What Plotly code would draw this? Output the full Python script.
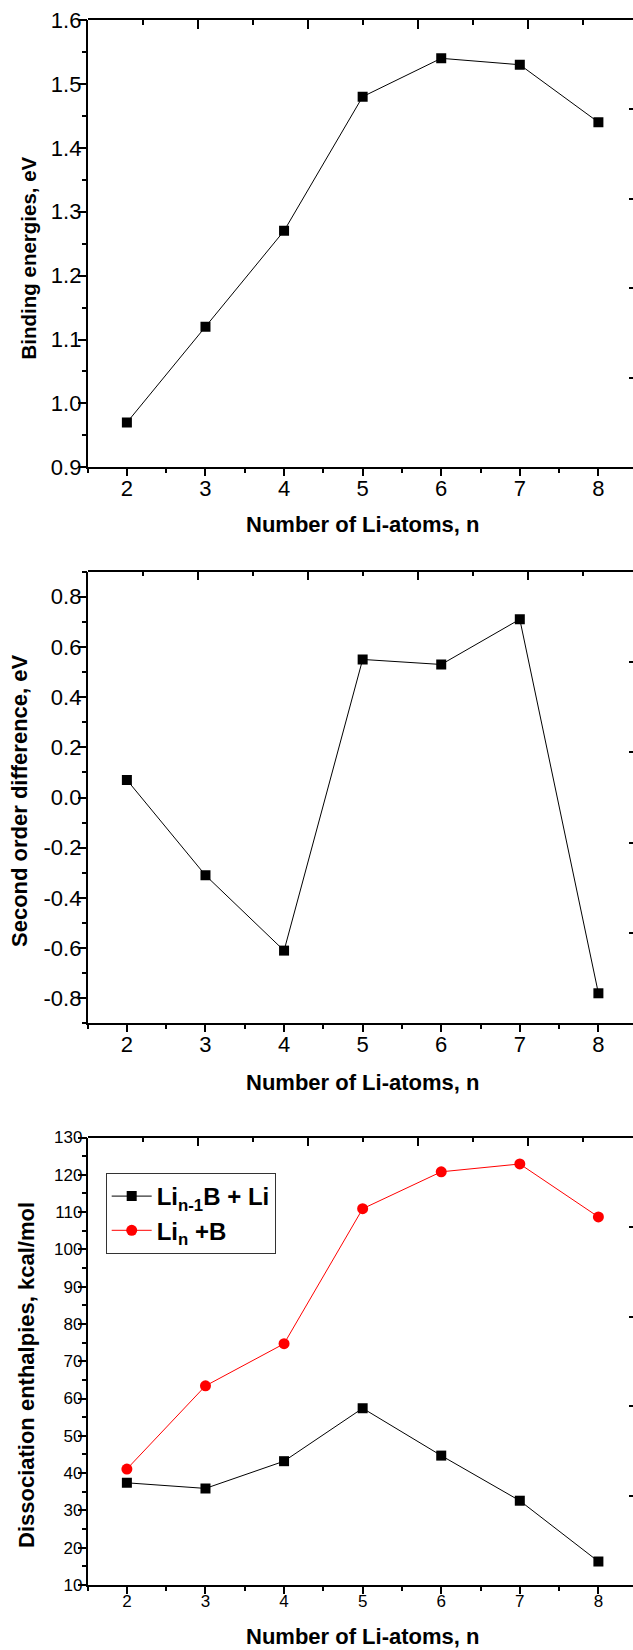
import plotly.graph_objects as go

# ---------------- data ----------------
n_atoms = [2, 3, 4, 5, 6, 7, 8]
binding_energy = [0.97, 1.12, 1.27, 1.48, 1.54, 1.53, 1.44]
second_diff = [0.07, -0.31, -0.61, 0.55, 0.53, 0.71, -0.78]
diss_lin1b_li = [37.4, 35.9, 43.2, 57.4, 44.7, 32.6, 16.3]
diss_lin_b = [41.1, 63.4, 74.7, 110.9, 120.8, 122.9, 108.7]

x_ticks = [2, 3, 4, 5, 6, 7, 8]
p1_yticks = [0.9, 1.0, 1.1, 1.2, 1.3, 1.4, 1.5, 1.6]
p1_ylabels = ["0.9", "1.0", "1.1", "1.2", "1.3", "1.4", "1.5", "1.6"]
p2_yticks = [-0.8, -0.6, -0.4, -0.2, 0.0, 0.2, 0.4, 0.6, 0.8]
p2_ylabels = ["-0.8", "-0.6", "-0.4", "-0.2", "0.0", "0.2", "0.4", "0.6", "0.8"]
p3_yticks = [10, 20, 30, 40, 50, 60, 70, 80, 90, 100, 110, 120, 130]
p3_ylabels = [str(v) for v in p3_yticks]

x_title = "Number of Li-atoms, n"
y_titles = ["Binding energies, eV", "Second order difference, eV",
            "Dissociation enthalpies, kcal/mol"]
legend_names = ["<b>Li<sub>n-1</sub>B + Li</b>", "<b>Li<sub>n</sub> +B</b>"]

# ---------------- layout geometry (pixels) ----------------
W, H = 633, 1650
X_LEFT = 87.6
X_FULL_RIGHT = 637.5          # where the original frame's right edge sits
PANELS = [(20.0, 467.3), (571.6, 1023.4), (1137.5, 1585.0)]   # (top, bottom) px
X_TITLE_Y = [524, 1082, 1636]                                 # px, centre

def ydom(top, bottom):
    return [1 - bottom / H, 1 - top / H]

FONT = "Liberation Sans, Arial, Helvetica, sans-serif"
BLACK = "#000000"

fig = go.Figure()

# panel 1
fig.add_trace(go.Scatter(x=n_atoms, y=binding_energy, mode="lines+markers",
                         line=dict(color=BLACK, width=1),
                         marker=dict(symbol="square", size=10, color=BLACK),
                         showlegend=False, xaxis="x", yaxis="y"))
# panel 2
fig.add_trace(go.Scatter(x=n_atoms, y=second_diff, mode="lines+markers",
                         line=dict(color=BLACK, width=1),
                         marker=dict(symbol="square", size=10, color=BLACK),
                         showlegend=False, xaxis="x2", yaxis="y2"))
# panel 3
fig.add_trace(go.Scatter(x=n_atoms, y=diss_lin1b_li, mode="lines+markers",
                         name=legend_names[0],
                         line=dict(color=BLACK, width=1),
                         marker=dict(symbol="square", size=10, color=BLACK),
                         xaxis="x3", yaxis="y3"))
fig.add_trace(go.Scatter(x=n_atoms, y=diss_lin_b, mode="lines+markers",
                         name=legend_names[1],
                         line=dict(color="#FF0000", width=1),
                         marker=dict(symbol="circle", size=11, color="#FF0000"),
                         xaxis="x3", yaxis="y3"))

# empty carrier traces so the frame axes (top / right) and the tick-mark
# twins of the bottom / left axes get drawn
for k in (1, 2, 3):
    xk = "x" if k == 1 else f"x{k}"
    yk = "y" if k == 1 else f"y{k}"
    for xa_, ya_ in ((f"x{k + 3}", f"y{k + 3}"), (f"x{k + 6}", yk), (xk, f"y{k + 9}")):
        fig.add_trace(go.Scatter(x=[None], y=[None], mode="lines", showlegend=False,
                                 hoverinfo="skip", xaxis=xa_, yaxis=ya_))

x_right_val = 8 + (W - 598.4) / ((598.4 - 126.9) / 6)
frac_right = (W - X_LEFT) / (X_FULL_RIGHT - X_LEFT)
xdom = [X_LEFT / W, 1.0]

layout = dict(
    width=W, height=H, template="none",
    margin=dict(l=0, r=0, t=0, b=0, pad=0),
    paper_bgcolor="white", plot_bgcolor="rgba(0,0,0,0)",
    font=dict(family=FONT, color=BLACK),
    legend=dict(x=105.7 / W, y=1 - 1173 / H, xanchor="left", yanchor="top",
                bordercolor="#333333", borderwidth=1, bgcolor="white",
                font=dict(family=FONT, size=24, color=BLACK),
                tracegroupgap=0, itemwidth=40),
    annotations=[],
)

tick_sizes = [22, 22, 17]
ytick_sets = [(p1_yticks, p1_ylabels, [0.9, 1.6], 0.05),
              (p2_yticks, p2_ylabels, [-0.9, 0.9], 0.1),
              (p3_yticks, p3_ylabels, [10, 130], 5)]

for i, ((top, bottom), (yt, yl, yr, ymin)) in enumerate(zip(PANELS, ytick_sets)):
    k = i + 1
    xa = "xaxis" if k == 1 else f"xaxis{k}"
    ya = "yaxis" if k == 1 else f"yaxis{k}"
    xr = "x" if k == 1 else f"x{k}"
    yr_ = "y" if k == 1 else f"y{k}"
    ts = tick_sizes[i]
    # main x axis: line + labels (tick marks come from the twin below)
    layout[xa] = dict(
        domain=xdom, anchor=yr_, range=[1.5, x_right_val], automargin=False,
        showgrid=False, zeroline=False, showline=True, linecolor=BLACK, linewidth=1.6,
        tickmode="array", tickvals=x_ticks, ticktext=[str(v) for v in x_ticks],
        ticks="", ticklabelstandoff=0,
        tickfont=dict(family=FONT, size=ts, color=BLACK),
    )
    # bottom tick marks
    layout[f"xaxis{k + 6}"] = dict(
        domain=xdom, anchor=yr_, overlaying=xr, side="bottom",
        range=[1.5, x_right_val], automargin=False,
        showgrid=False, zeroline=False, showline=False, showticklabels=False,
        tickmode="array", tickvals=x_ticks,
        ticks="outside", ticklen=8, tickwidth=1.5, tickcolor=BLACK,
        minor=dict(dtick=0.5, tick0=1.5, ticks="outside", ticklen=5, tickwidth=1.5,
                   tickcolor=BLACK, showgrid=False),
    )
    # main y axis: line + labels
    layout[ya] = dict(
        domain=ydom(top, bottom), anchor=xr, range=yr, automargin=False,
        showgrid=False, zeroline=False, showline=True, linecolor=BLACK, linewidth=1.6,
        tickmode="array", tickvals=yt, ticktext=yl,
        ticks="", ticklabelstandoff=0,
        tickfont=dict(family=FONT, size=ts, color=BLACK),
    )
    # left tick marks
    layout[f"yaxis{k + 9}"] = dict(
        domain=ydom(top, bottom), anchor=xr, overlaying=yr_, side="left",
        range=yr, automargin=False,
        showgrid=False, zeroline=False, showline=False, showticklabels=False,
        tickmode="array", tickvals=yt,
        ticks="outside", ticklen=9, tickwidth=1.5, tickcolor=BLACK,
        minor=dict(dtick=ymin, tick0=yr[0], ticks="outside", ticklen=5, tickwidth=1.5,
                   tickcolor=BLACK, showgrid=False),
    )
    # top frame axis (independent tick set, as in the original)
    tk = k + 3
    layout[f"xaxis{tk}"] = dict(
        domain=xdom, side="top", anchor=f"y{tk}", range=[0, frac_right], automargin=False,
        showgrid=False, zeroline=False, showline=True, linecolor=BLACK, linewidth=1.6,
        tickmode="array", tickvals=[0.2, 0.4, 0.6, 0.8], showticklabels=False,
        ticks="inside", ticklen=9, tickwidth=1.5, tickcolor=BLACK,
        minor=dict(tickvals=[0.1, 0.3, 0.5, 0.7, 0.9], ticks="inside", ticklen=5,
                   tickwidth=1.5, tickcolor=BLACK, showgrid=False),
    )
    # right frame ticks (frame line itself lies outside the picture)
    layout[f"yaxis{tk}"] = dict(
        domain=ydom(top, bottom), side="right", anchor=f"x{tk}", range=[0, 1],
        automargin=False,
        showgrid=False, zeroline=False, showline=False,
        tickmode="array", tickvals=[0.2, 0.4, 0.6, 0.8], showticklabels=False,
        ticks="inside", ticklen=4, tickwidth=1.5, tickcolor=BLACK,
    )
    # axis titles
    xc = (X_LEFT + X_FULL_RIGHT) / 2
    layout["annotations"].append(dict(
        text=f"<b>{x_title}</b>", xref="paper", yref="paper",
        x=xc / W, y=1 - X_TITLE_Y[i] / H, xanchor="center", yanchor="middle",
        showarrow=False, font=dict(family=FONT, size=22, color=BLACK)))

y_title_pos = [(27.5, 258), (19, 801), (26, 1375)]
y_title_sizes = [20.5, 22, 22]
for (px, py), t, s in zip(y_title_pos, y_titles, y_title_sizes):
    layout["annotations"].append(dict(
        text=f"<b>{t}</b>", xref="paper", yref="paper",
        x=px / W, y=1 - py / H, xanchor="center", yanchor="middle", textangle=-90,
        showarrow=False, font=dict(family=FONT, size=s, color=BLACK)))

fig.update_layout(**layout)
# remove the browser's default 8px page margin so the figure sits at (0, 0)
fig.write_html("out.html",
               config={"displayModeBar": False},
               post_script="document.body.style.margin='0px';"
                           "document.body.style.overflow='hidden';")
